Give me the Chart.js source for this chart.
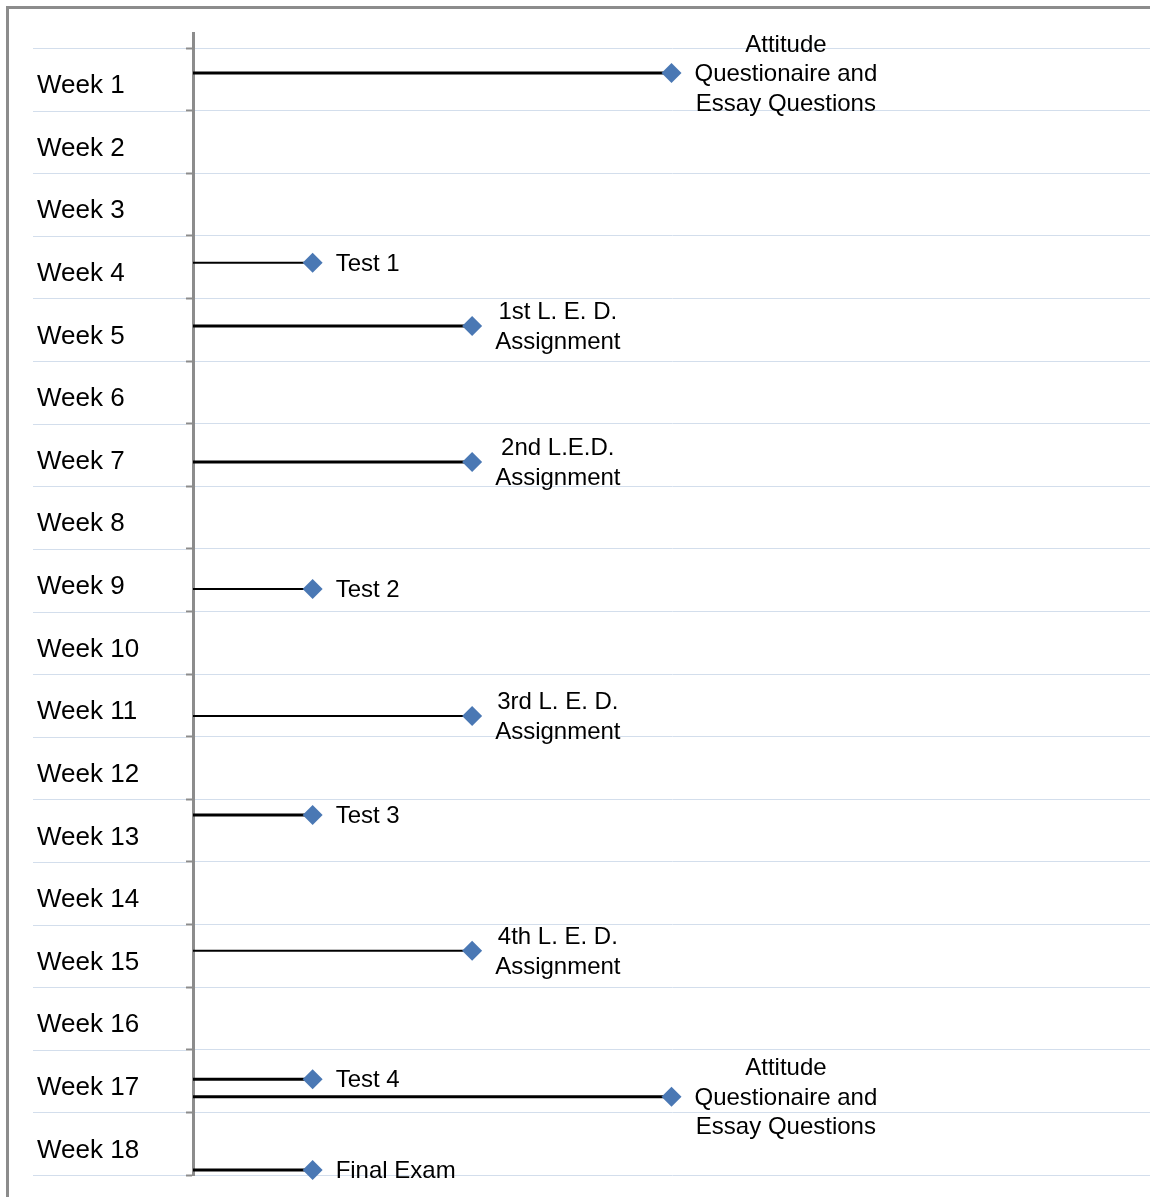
<!DOCTYPE html>
<html>
<head>
<meta charset="utf-8">
<title>Course assessment schedule</title>
<script src="https://cdn.jsdelivr.net/npm/chart.js@4/dist/chart.umd.min.js"></script>
<style>
  html, body { margin: 0; padding: 0; background: #fff; }
  #wrap { position: relative; width: 1150px; height: 1197px; overflow: hidden; }
  #frame {
    position: absolute; left: 6px; top: 6px; width: 1200px; height: 1250px;
    border-left: 3px solid #8c8c8c; border-top: 3px solid #8c8c8c;
  }
  #schedule { position: absolute; left: 0; top: 0; }
</style>
</head>
<body>
<div id="wrap">
  <div id="frame"></div>
  <canvas id="schedule" width="1150" height="1197"></canvas>
</div>
<script>
const weekLabels = [
  "Week 1", "Week 2", "Week 3", "Week 4", "Week 5", "Week 6",
  "Week 7", "Week 8", "Week 9", "Week 10", "Week 11", "Week 12",
  "Week 13", "Week 14", "Week 15", "Week 16", "Week 17", "Week 18"
];

const eventNames = [
  ["Attitude", "Questionaire and", "Essay Questions"],
  ["Test 1"],
  ["1st L. E. D.", "Assignment"],
  ["2nd L.E.D.", "Assignment"],
  ["Test 2"],
  ["3rd L. E. D.", "Assignment"],
  ["Test 3"],
  ["4th L. E. D.", "Assignment"],
  ["Test 4"],
  ["Attitude", "Questionaire and", "Essay Questions"],
  ["Final Exam"]
];

// where each event sits on the week axis (week n is centred on n)
const eventWeeks = [0.90, 3.93, 4.94, 7.11, 9.14, 11.17, 12.75, 14.92, 16.97, 17.25, 18.42];

// stem length for each event
const eventLengths = [12, 3, 7, 7, 3, 7, 3, 7, 3, 12, 3];

const stemWidths = [3, 2, 3, 3, 2, 2, 3, 2, 3, 3, 3];

const GRID = "#d3deec";
const AXIS = "#8c8c8c";
const MARKER = "#4a78b4";

// light row lines carry on under the week labels
const gridExtension = {
  id: "gridExtension",
  beforeDatasetsDraw(chart) {
    const { ctx, chartArea, scales: { y } } = chart;
    ctx.save();
    ctx.strokeStyle = GRID;
    ctx.lineWidth = 1;
    y.ticks.forEach(t => {
      const py = Math.round(y.getPixelForValue(t.value)) + 0.5;
      ctx.beginPath();
      ctx.moveTo(33, py);
      ctx.lineTo(chartArea.left - 7, py);
      ctx.stroke();
    });
    ctx.restore();
  }
};

// event names beside each marker, centred as a block
const eventLabels = {
  id: "eventLabels",
  afterDatasetsDraw(chart) {
    const { ctx, scales: { x, y } } = chart;
    ctx.save();
    ctx.font = '24px "Liberation Sans", Arial, sans-serif';
    ctx.fillStyle = "#000";
    ctx.textAlign = "center";
    ctx.textBaseline = "middle";
    eventNames.forEach((lines, i) => {
      const px = x.getPixelForValue(eventLengths[i]);
      const py = y.getPixelForValue(eventWeeks[i]) + 1.5;
      const blockW = Math.max(...lines.map(s => ctx.measureText(s).width));
      const cx = px + 23 + blockW / 2;
      lines.forEach((s, j) => {
        ctx.fillText(s, cx, py + (j - (lines.length - 1) / 2) * 29.5);
      });
    });
    ctx.restore();
  }
};

const datasets = eventNames.map((name, i) => ({
  label: name.join(" "),
  data: [
    { x: 0, y: eventWeeks[i] },
    { x: eventLengths[i], y: eventWeeks[i] }
  ],
  showLine: true,
  borderColor: "#000",
  borderWidth: stemWidths[i],
  pointRadius: [0, 10],
  pointHoverRadius: [0, 10],
  pointStyle: "rectRot",
  pointBackgroundColor: MARKER,
  pointBorderColor: MARKER,
  pointBorderWidth: 0,
  clip: false
}));

new Chart(document.getElementById("schedule"), {
  type: "scatter",
  data: { datasets },
  options: {
    responsive: false,
    animation: false,
    events: [],
    layout: {
      autoPadding: false,
      padding: { top: 33, bottom: 22, left: 37, right: 0 }
    },
    plugins: {
      legend: { display: false },
      tooltip: { enabled: false }
    },
    scales: {
      x: { type: "linear", min: 0, max: 24, display: false },
      y: {
        type: "linear",
        reverse: true,
        min: 0.26,
        max: 18.5,
        afterBuildTicks: scale => {
          scale.ticks = weekLabels.map((_, i) => ({ value: i + 0.5 }))
            .concat([{ value: weekLabels.length + 0.5 }]);
        },
        afterFit: scale => { scale.width = 156; },
        grid: { color: GRID, lineWidth: 1, tickLength: 7, tickColor: AXIS, tickWidth: 2 },
        border: { color: AXIS, width: 3 },
        ticks: {
          autoSkip: false,
          callback: (v, i) => weekLabels[i] || "",
          crossAlign: "far",
          labelOffset: 38,
          padding: 0,
          color: "#000",
          font: { family: '"Liberation Sans", Arial, sans-serif', size: 26 }
        }
      }
    }
  },
  plugins: [gridExtension, eventLabels]
});
</script>
</body>
</html>
